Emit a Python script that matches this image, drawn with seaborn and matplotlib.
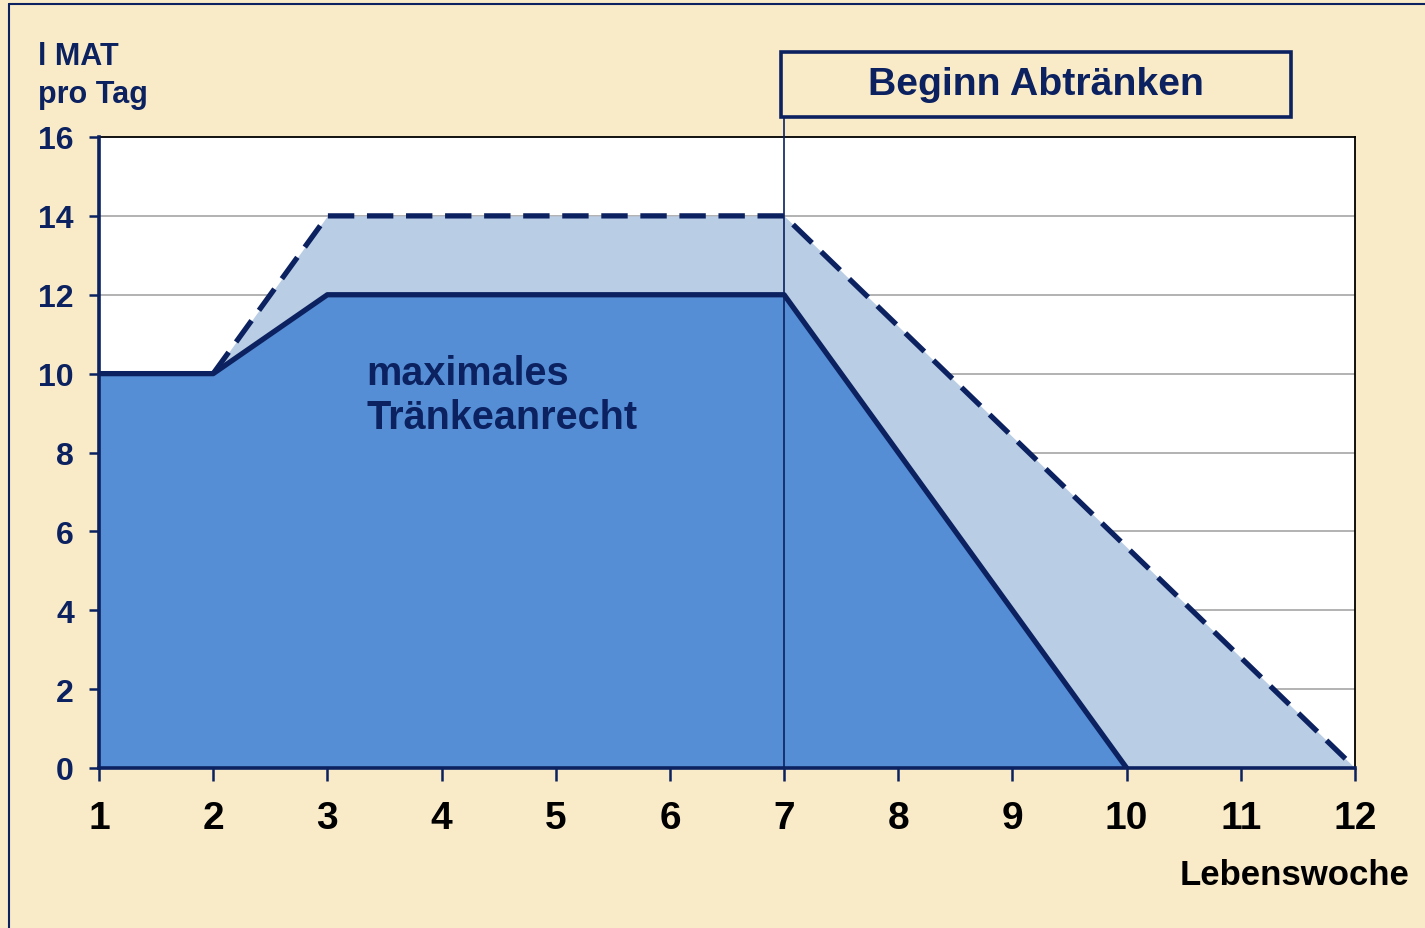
import matplotlib
matplotlib.use("Agg")
import matplotlib.pyplot as plt
from matplotlib.patches import Rectangle
from matplotlib.lines import Line2D
import seaborn as sns
import pandas as pd

# Week of life and daily milk replacer allowance (litres)
weeks_max = [1, 2, 3, 7, 10]
litres_max = [10, 10, 12, 12, 0]
weeks_upper = [2, 3, 7, 12]
litres_upper = [10, 14, 14, 0]
x_ticks = list(range(1, 13))
y_ticks = list(range(0, 17, 2))
weaning_start = 7

NAVY = "#0B2160"
DARK_FILL = "#558ED5"
LIGHT_FILL = "#B9CDE5"
BG = "#FAEBC8"

sns.set_theme(style="white")
plt.rcParams["font.family"] = ["Liberation Sans", "DejaVu Sans"]
plt.rcParams["font.weight"] = "bold"

fig = plt.figure(figsize=(14.25, 9.29), dpi=100, facecolor=BG)
ax = fig.add_axes([99 / 1425, 1 - 769 / 929, (1355 - 99) / 1425, (769 - 138) / 929])
ax.set_facecolor("white")

# horizontal grid under the filled areas
for y in y_ticks[1:-1]:
    ax.axhline(y, color="#A6A6A6", lw=1.2, zorder=0)

ax.fill_between([1] + weeks_upper, [10] + litres_upper, 0, color=LIGHT_FILL, lw=0, zorder=1)
ax.fill_between(weeks_max, litres_max, 0, color=DARK_FILL, lw=0, zorder=2)

df_max = pd.DataFrame({"Woche": weeks_max, "l": litres_max})
df_up = pd.DataFrame({"Woche": weeks_upper, "l": litres_upper})
sns.lineplot(data=df_up, x="Woche", y="l", ax=ax, color=NAVY, lw=3.8,
             dashes=False, zorder=3)
ax.lines[-1].set_dashes([5, 2.4])
sns.lineplot(data=df_max, x="Woche", y="l", ax=ax, color=NAVY, lw=3.8, zorder=4)

# start-of-weaning marker running up to the label box
ax.plot([weaning_start, weaning_start], [0, 16.5], color=NAVY, lw=1.2,
        clip_on=False, zorder=5)

ax.set_xlim(1, 12)
ax.set_ylim(0, 16)
ax.set_xticks(x_ticks)
ax.set_yticks(y_ticks)
ax.set_xlabel("")
ax.set_ylabel("")
ax.tick_params(axis="x", direction="out", length=9, width=1.8, color=NAVY,
               pad=14, labelsize=28, labelcolor="black")
ax.tick_params(axis="y", direction="out", length=7, width=1.8, color=NAVY,
               pad=11, labelsize=23, labelcolor=NAVY)
ax.tick_params(bottom=True, left=True)
for lbl in ax.get_xticklabels() + ax.get_yticklabels():
    lbl.set_fontweight("bold")

for side in ["top", "right"]:
    ax.spines[side].set_color("black")
    ax.spines[side].set_linewidth(1.3)
for side in ["left", "bottom"]:
    ax.spines[side].set_color(NAVY)
    ax.spines[side].set_linewidth(2.6)
    ax.spines[side].set_zorder(6)

ax.text(3.34, 9.45, "maximales\nTränkeanrecht", color=NAVY, fontsize=28.5,
        fontweight="bold", ha="left", va="center", linespacing=1.2, zorder=6)

# axis captions
fig.text(38 / 1425, 1 - 76 / 929, "l MAT\npro Tag", color=NAVY, fontsize=22,
         fontweight="bold", ha="left", va="center", linespacing=1.35)
fig.text(1410 / 1425, 1 - 876 / 929, "Lebenswoche", color="black", fontsize=25,
         fontweight="bold", ha="right", va="center")

# label box for start of weaning
fig.patches.append(Rectangle((781 / 1425, 1 - 118 / 929), 510 / 1425, 65 / 929,
                             transform=fig.transFigure, facecolor="none",
                             edgecolor=NAVY, lw=2.6))
fig.text(1036 / 1425, 1 - 85 / 929, "Beginn Abtränken", color=NAVY, fontsize=28.3,
         fontweight="bold", ha="center", va="center")

# slide frame
fig.lines.append(Line2D([9 / 1425, 9 / 1425], [0, 1 - 5 / 929], transform=fig.transFigure,
                        color=NAVY, lw=1.5))
fig.lines.append(Line2D([9 / 1425, 1], [1 - 5 / 929, 1 - 5 / 929], transform=fig.transFigure,
                        color=NAVY, lw=1.5))

fig.savefig("out.png", dpi=100, facecolor=BG)
